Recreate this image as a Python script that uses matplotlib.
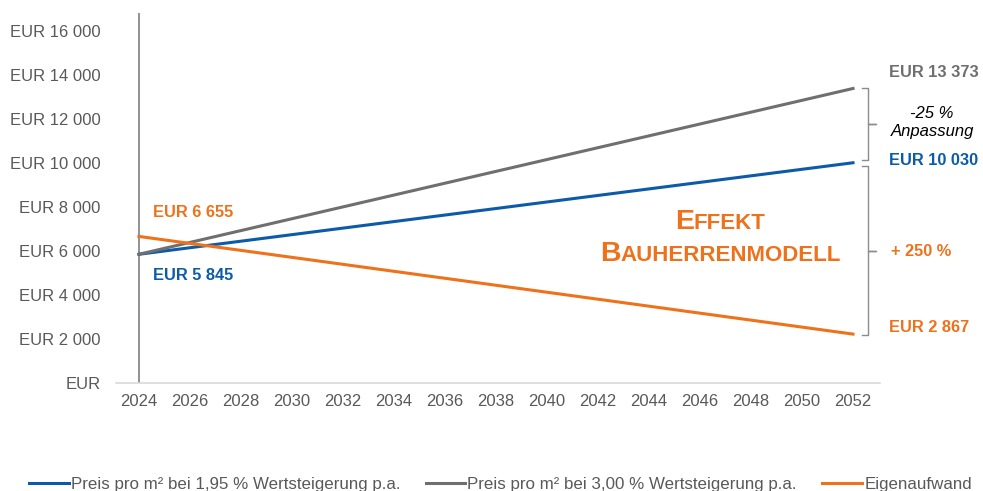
import matplotlib
matplotlib.use('Agg')
import matplotlib.pyplot as plt
from matplotlib.transforms import offset_copy

plt.rcParams['font.family'] = ['Liberation Sans', 'DejaVu Sans']

# data (line ends as drawn in the picture)
years = [2024, 2052]
preis_195 = [5845, 10000]
preis_300 = [5845, 13373]
eigenaufwand = [6655, 2220]
yticks = [0, 2000, 4000, 6000, 8000, 10000, 12000, 14000, 16000]
ytick_labels = ['EUR', 'EUR 2 000', 'EUR 4 000', 'EUR 6 000', 'EUR 8 000',
                'EUR 10 000', 'EUR 12 000', 'EUR 14 000', 'EUR 16 000']
xticks = list(range(2024, 2053, 2))

blue = '#0C5BA8'
grey = '#6F6F6F'
orange = '#EE721B'
txt = '#595959'

fig = plt.figure(figsize=(9.83, 4.91), dpi=100)
ax = fig.add_axes([0.118, 0.22, 0.777, 0.7535])

ax.plot(years, preis_195, color=blue, lw=2.2, label='Preis pro m² bei 1,95 % Wertsteigerung p.a.', zorder=3)
ax.plot(years, preis_300, color=grey, lw=2.2, label='Preis pro m² bei 3,00 % Wertsteigerung p.a.', zorder=3)
ax.plot(years, eigenaufwand, color=orange, lw=2.2, label='Eigenaufwand', zorder=3)
ax.axvline(years[0], color='#7f7f7f', lw=1.2, zorder=2)

ax.set_xlim(2023.1, 2053.05)
ax.set_ylim(0, 16800)
ax.set_yticks(yticks)
ax.set_yticklabels(ytick_labels)
ax.set_xticks(xticks)
ax.tick_params(length=0, labelsize=12, colors=txt, pad=8)
ax.tick_params(axis='y', pad=11)
for s in ['top', 'right', 'left']:
    ax.spines[s].set_visible(False)
ax.spines['bottom'].set_color('#d9d9d9')
ax.spines['bottom'].set_linewidth(1.2)

# value labels
bold = dict(fontsize=11.8, fontweight='bold', clip_on=False)
ax.text(2053.4, 14100, 'EUR 13 373', color=grey, va='center', **bold)
ax.text(2053.4, 10100, 'EUR 10 030', color=blue, va='center', **bold)
ax.text(2053.4, 2540, 'EUR 2 867', color=orange, va='center', **bold)
ax.text(2053.5, 5980, '+ 250 %', color=orange, va='center', **bold)
ax.text(2024.55, 7750, 'EUR 6 655', color=orange, va='center', **bold)
ax.text(2024.55, 4900, 'EUR 5 845', color=blue, va='center', **bold)
ax.text(2055.1, 11820, '-25 %\nAnpassung', color='black', style='italic',
        ha='center', va='center', fontsize=12, linespacing=1.25, clip_on=False)


# curly brackets on the right
def bracket(y0, y1, x=2052.59, hook=0.24, tip=0.32):
    ym = (y0 + y1) / 2
    xs = [x - hook, x, x, x + tip, x, x, x - hook]
    ys = [y1, y1, ym, ym, ym, y0, y0]
    ax.plot(xs, ys, color='#8c8c8c', lw=1.0, clip_on=False)


bracket(preis_195[-1] + 110, preis_300[-1])
bracket(eigenaufwand[-1] - 40, preis_195[-1] - 160)


# small caps title
def small_caps(x, y, word, big=20.5, small=16):
    r = fig.canvas.get_renderer()
    t1 = ax.text(x, y, word[0], fontsize=big, fontweight='bold', color=orange)
    t2 = ax.text(x, y, word[1:], fontsize=small, fontweight='bold', color=orange)
    w1 = t1.get_window_extent(r).width
    w2 = t2.get_window_extent(r).width
    start = -(w1 + w2) / 2
    t1.set_transform(offset_copy(ax.transData, fig, x=start, y=0, units='dots'))
    t2.set_transform(offset_copy(ax.transData, fig, x=start + w1, y=0, units='dots'))


small_caps(2046.8, 7000, 'EFFEKT')
small_caps(2046.8, 5550, 'BAUHERRENMODELL')

leg = fig.legend(loc='center', bbox_to_anchor=(0.509, 0.014), ncol=3, frameon=False,
                 fontsize=12.2, handlelength=2.35, handletextpad=0.12, columnspacing=1.5)
for t in leg.get_texts():
    t.set_color(txt)

fig.savefig('out.png', dpi=100)
